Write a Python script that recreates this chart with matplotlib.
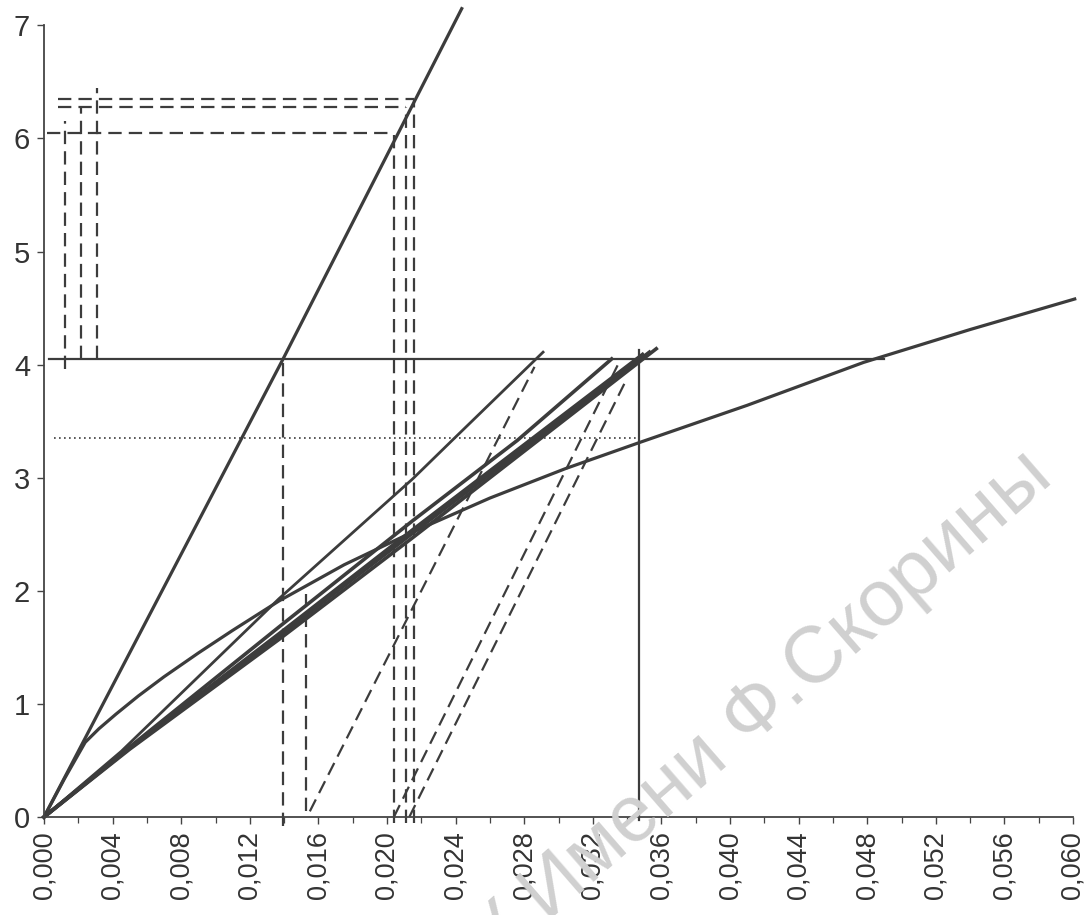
import matplotlib
matplotlib.use("Agg")
import matplotlib.pyplot as plt
from matplotlib.ticker import MultipleLocator, FuncFormatter

# ---------------- data ----------------
steep_x = [0.0, 0.01394, 0.0244]
steep_y = [0.0, 4.05, 7.16]

curve_x = [0.0, 0.0012, 0.0024, 0.0032, 0.0042, 0.0055, 0.0070, 0.0090, 0.0110,
           0.0137, 0.0175, 0.0215, 0.0260, 0.0304, 0.0347, 0.0410, 0.0478,
           0.0540, 0.0601]
curve_y = [0.0, 0.34, 0.66, 0.78, 0.91, 1.07, 1.24, 1.45, 1.65,
           1.91, 2.23, 2.52, 2.82, 3.08, 3.31, 3.64, 4.02,
           4.31, 4.58]

l2_x = [0.0, 0.0045, 0.0137, 0.0215, 0.0238, 0.0291]
l2_y = [0.0, 0.58, 1.93, 2.99, 3.33, 4.11]

b1_x = [0.0, 0.0050, 0.0137, 0.0215, 0.0276, 0.0331]
b1_y = [0.0, 0.62, 1.68, 2.62, 3.33, 4.05]
b2_x = [0.0, 0.0050, 0.0137, 0.0215, 0.0349]
b2_y = [0.0, 0.61, 1.62, 2.54, 4.09]
b3_x = [0.0, 0.0050, 0.0137, 0.0215, 0.0357]
b3_y = [0.0, 0.60, 1.57, 2.47, 4.14]
b4_x = [0.0, 0.0050, 0.0137, 0.0215, 0.0353]
b4_y = [0.0, 0.61, 1.60, 2.51, 4.11]

# unloading (dashed, slanted) lines
u1_x = [0.0155, 0.0286]
u1_y = [0.05, 3.98]
u2_x = [0.0204, 0.0335]
u2_y = [0.0, 4.01]
u3_x = [0.0213, 0.0340]
u3_y = [0.0, 3.88]

# reference levels
h_solid_y = 4.05
h_solid_x = [0.0003, 0.0490]
h_dotted_y = 3.35
h_dotted_x = [0.0006, 0.0347]
v_solid_x = 0.0347
v_solid_y = [-0.03, 4.13]
v_dash_main_x = 0.01394
v_dash_main_y = [-0.08, 4.05]
v_dash_small_x = 0.0153
v_dash_small_y = [0.05, 1.97]

# dashed rectangle construction
rect_levels = [6.05, 6.28, 6.35]
rect_h_start = [0.00015, 0.0008, 0.0008]
rect_right_x = [0.0204, 0.0211, 0.0216]
rect_left_x = [0.00122, 0.00216, 0.00309]
rect_left_top = [6.15, 6.28, 6.45]
rect_left_bottom = [3.96, 4.05, 4.05]

x_ticks = [i * 0.004 for i in range(16)]
y_ticks = [0, 1, 2, 3, 4, 5, 6, 7]

watermark = "ГГУ Имени Ф.Скорины"

# ---------------- figure ----------------
plt.rcParams['font.family'] = ['Liberation Sans', 'DejaVu Sans']
W, H = 1088, 915
fig = plt.figure(figsize=(W / 100, H / 100), dpi=100)
fig.patch.set_facecolor('white')

# watermark
fig.text(728 / W, 1 - 738 / H, watermark, rotation=41,
         rotation_mode='anchor', ha='center', va='center',
         fontsize=57, color='#d0d0d0', zorder=0)

x0_px, y0_px = 44, 817
px_x = 17150.0
px_y = 113.1
ax = fig.add_axes([x0_px / W, (H - y0_px) / H, 0.060 * px_x / W, 7 * px_y / H])
ax.set_facecolor('none')
ax.set_xlim(0, 0.060)
ax.set_ylim(0, 7)

ink = '#3c3c3c'
lw_main = 2.3
dash = (0, (6, 3.2))

ax.plot(steep_x, steep_y, color=ink, lw=lw_main, clip_on=False, solid_capstyle='butt')
ax.plot(curve_x, curve_y, color=ink, lw=lw_main, clip_on=False)
ax.plot(l2_x, l2_y, color=ink, lw=2.0, clip_on=False)
for bx, by in [(b1_x, b1_y), (b2_x, b2_y), (b3_x, b3_y), (b4_x, b4_y)]:
    ax.plot(bx, by, color=ink, lw=2.6, clip_on=False)

for ux, uy in [(u1_x, u1_y), (u2_x, u2_y), (u3_x, u3_y)]:
    ax.plot(ux, uy, color=ink, lw=1.6, linestyle=dash, clip_on=False)

ax.plot(h_solid_x, [h_solid_y, h_solid_y], color=ink, lw=1.6, clip_on=False)
ax.plot(h_dotted_x, [h_dotted_y, h_dotted_y], color=ink, lw=1.2,
        linestyle=(0, (1, 2)), clip_on=False)
ax.plot([v_solid_x, v_solid_x], v_solid_y, color=ink, lw=1.6, clip_on=False)
ax.plot([v_dash_main_x, v_dash_main_x], v_dash_main_y, color=ink, lw=1.6,
        linestyle=dash, clip_on=False)
ax.plot([v_dash_small_x, v_dash_small_x], v_dash_small_y, color=ink, lw=1.6,
        linestyle=dash, clip_on=False)

for lev, hs, rx in zip(rect_levels, rect_h_start, rect_right_x):
    ax.plot([hs, rx], [lev, lev], color=ink, lw=1.6, linestyle=dash, clip_on=False)
    ax.plot([rx, rx], [-0.05, lev], color=ink, lw=1.6, linestyle=dash, clip_on=False)
for lx, lt, lb in zip(rect_left_x, rect_left_top, rect_left_bottom):
    ax.plot([lx, lx], [lb, lt], color=ink, lw=1.6, linestyle=dash, clip_on=False)

# axes styling
for s in ['top', 'right']:
    ax.spines[s].set_visible(False)
for s in ['left', 'bottom']:
    ax.spines[s].set_color('#444444')
    ax.spines[s].set_linewidth(1.3)

ax.set_xticks(x_ticks)
ax.xaxis.set_minor_locator(MultipleLocator(0.002))
ax.xaxis.set_major_formatter(FuncFormatter(lambda v, p: f"{v:.3f}".replace('.', ',')))
ax.set_yticks(y_ticks)
ax.tick_params(axis='x', which='major', direction='out', length=5, width=1.0,
               colors='#444444', labelcolor='#333333', labelsize=19.5,
               labelrotation=90, pad=5)
ax.tick_params(axis='x', which='minor', direction='out', length=4, width=0.9,
               colors='#444444')
ax.tick_params(axis='y', which='major', direction='out', length=5, width=1.0,
               colors='#444444', labelcolor='#333333', labelsize=21, pad=5)

fig.savefig('out.png', dpi=100, facecolor='white')
